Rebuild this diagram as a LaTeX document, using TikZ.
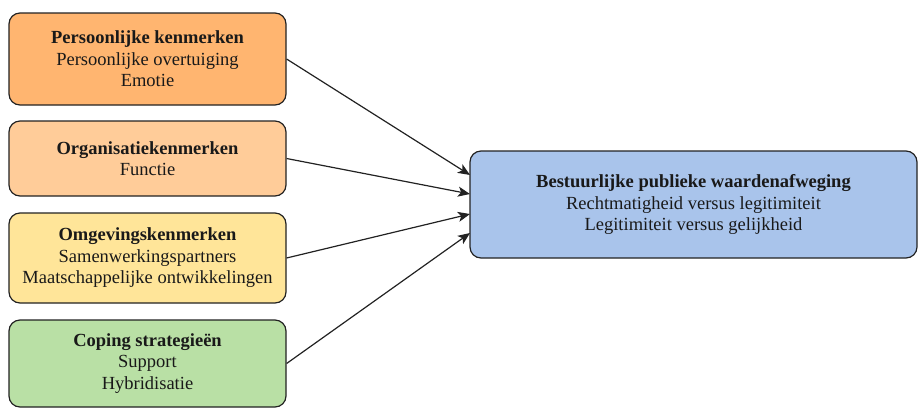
\documentclass[tikz,border=0pt]{standalone}
\usepackage{fontspec}
\setmainfont{Liberation Serif}
\usetikzlibrary{arrows.meta}
\definecolor{strokecol}{HTML}{222222}
\definecolor{orangefill}{HTML}{FFB570}
\definecolor{peachfill}{HTML}{FFCC99}
\definecolor{yellowfill}{HTML}{FFE599}
\definecolor{greenfill}{HTML}{B9E0A5}
\definecolor{bluefill}{HTML}{A9C4EB}
\begin{document}
\begin{tikzpicture}[x=1pt,y=-1pt,
  factor/.style={draw=strokecol, line width=1.2pt, rounded corners=11pt,
    align=center, inner sep=0pt, text=black!90,
    font=\fontsize{18.5}{21.5}\selectfont},
  link/.style={draw=strokecol, line width=1.2pt,
    -{Stealth[length=12pt,width=10pt,inset=3pt]}}
]
\useasboundingbox (0,0) rectangle (918,408);

\node[factor, fill=orangefill, minimum width=277pt, minimum height=92pt] (pk) at (147.5,59)
  {\textbf{Persoonlijke kenmerken}\\Persoonlijke overtuiging\\Emotie};
\node[factor, fill=peachfill, minimum width=277pt, minimum height=75pt] (ok) at (147.5,158.5)
  {\textbf{Organisatiekenmerken}\\Functie};
\node[factor, fill=yellowfill, minimum width=277pt, minimum height=90pt] (omg) at (147.5,258)
  {\textbf{Omgevingskenmerken}\\Samenwerkingspartners\\Maatschappelijke ontwikkelingen};
\node[factor, fill=greenfill, minimum width=277pt, minimum height=87pt] (cs) at (147.5,363.5)
  {\textbf{Coping strategieën}\\Support\\Hybridisatie};

\node[factor, fill=bluefill, minimum width=447pt, minimum height=107pt] (bpw) at (693.5,204.5)
  {\textbf{Bestuurlijke publieke waardenafweging}\\Rechtmatigheid versus legitimiteit\\Legitimiteit versus gelijkheid};

% entry points along the left side of the target box
\coordinate (e1) at (470,175);
\coordinate (e2) at (470,194);
\coordinate (e3) at (470,214);
\coordinate (e4) at (470,233);

\draw[link] (pk.east) -- (e1);
\draw[link] (ok.east) -- (e2);
\draw[link] (omg.east) -- (e3);
\draw[link] (cs.east) -- (e4);
\end{tikzpicture}
\end{document}
